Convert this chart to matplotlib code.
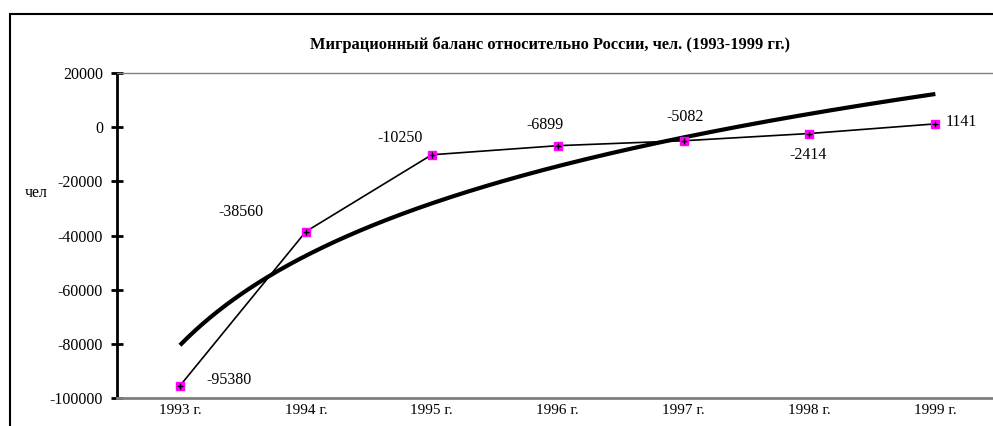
import numpy as np
import matplotlib
matplotlib.use("Agg")
import matplotlib.pyplot as plt
from matplotlib.patches import Rectangle

# --- data ---
years = ["1993 г.", "1994 г.", "1995 г.", "1996 г.", "1997 г.", "1998 г.", "1999 г."]
balance = [-95380, -38560, -10250, -6899, -5082, -2414, 1141]
y_ticks = [-100000, -80000, -60000, -40000, -20000, 0, 20000]

# label offsets in pixels (dx, dy) relative to each point
label_offsets = [(49, 6), (-65, 20), (-32, 17), (-13, 21), (2, 24), (-1, -21), (26, 2)]

plt.rcParams['font.family'] = ['Liberation Serif', 'DejaVu Serif']

W, H = 993, 426
fig = plt.figure(figsize=(W / 100, H / 100), dpi=100)

# axes box in pixels: left 117, right 998 (past the figure edge), top 72.7, bottom 398.3
left, right, top, bottom = 117, 998.3, 72.7, 398.3
ax = fig.add_axes([left / W, 1 - bottom / H, (right - left) / W, (bottom - top) / H])

x = np.arange(len(years))

# logarithmic trend, like the spreadsheet one
coef = np.polyfit(np.log(x + 1), balance, 1)
xt = np.linspace(1, len(years), 300)
ax.plot(xt - 1, np.polyval(coef, np.log(xt)), color="black", lw=3.0,
        solid_capstyle="butt", zorder=2)

# data line with markers
ax.plot(x, balance, color="black", lw=1.2, zorder=3)
ax.plot(x, balance, ls="none", marker="s", ms=6, mfc="#ff00ff", mec="#ff00ff", zorder=4)
ax.plot(x, balance, ls="none", marker="+", ms=5, mew=1.0, color="black", zorder=5)

for xi, yi, (dx, dy) in zip(x, balance, label_offsets):
    ax.annotate(str(yi), (xi, yi), xytext=(dx, dy), textcoords="offset pixels",
                ha="center", va="center", fontsize=11.5)

ax.set_xlim(-0.5, len(years) - 0.5)
ax.set_ylim(-100000, 20000)
ax.set_yticks(y_ticks)
ax.set_yticklabels([str(v) for v in y_ticks])
ax.set_xticks(x)
ax.set_xticklabels(years)

ax.tick_params(axis="y", direction="inout", length=8, width=2, pad=6, labelsize=11.5)
ax.tick_params(axis="x", length=0, pad=4, labelsize=11)

ax.spines["right"].set_visible(False)
ax.spines["left"].set_linewidth(2)
ax.spines["left"].set_color("black")
ax.spines["top"].set_color("#808080")
ax.spines["top"].set_linewidth(1)
ax.spines["bottom"].set_color("#808080")
ax.spines["bottom"].set_linewidth(2)

fig.text(550 / W, 1 - 45 / H, "Миграционный баланс относительно России, чел. (1993-1999 гг.)",
         ha="center", va="center", fontsize=11.8, fontweight="bold")
fig.text(25 / W, 1 - 193 / H, "чел", ha="left", va="center", fontsize=11.5)

# outer chart frame (right and bottom edges are outside the picture)
fig.add_artist(Rectangle((10 / W, -0.2), 2.0, 1.2 - 14 / H, transform=fig.transFigure,
                         fill=False, edgecolor="black", lw=1.5))

fig.savefig("out.png", dpi=100)
